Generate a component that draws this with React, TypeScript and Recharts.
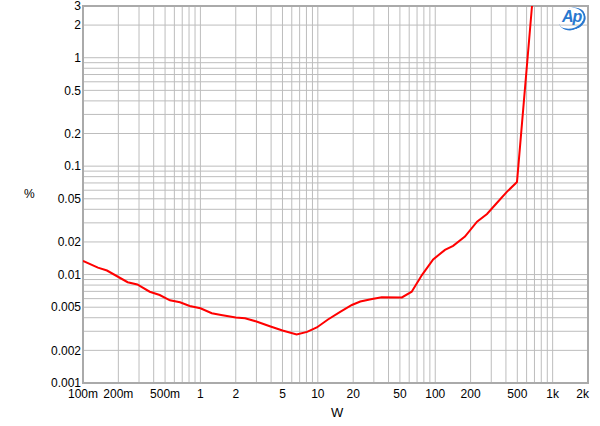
import { LineChart, Line, XAxis, YAxis, CartesianGrid, ReferenceArea } from "recharts";

// output power (W) and THD+N (%)
const powerW = [
  0.1, 0.134, 0.16, 0.24, 0.29, 0.37, 0.45, 0.55, 0.67, 0.81,
  1, 1.25, 1.5, 2, 2.4, 3, 3.9, 5, 6.6, 8.1,
  9.8, 12.2, 15.5, 19.5, 23, 29, 35, 52, 63, 77,
  96, 121, 142, 179, 227, 276, 336, 409, 497, 667,
];
const thdPct = [
  0.0134, 0.0116, 0.0109, 0.0085, 0.0081, 0.00695, 0.00648, 0.00579, 0.00555, 0.00513,
  0.00489, 0.0044, 0.00424, 0.00402, 0.00395, 0.00369, 0.00334, 0.00305, 0.0028, 0.00296,
  0.00325, 0.00385, 0.00452, 0.00524, 0.00565, 0.00596, 0.00617, 0.00615, 0.00695, 0.0099,
  0.0138, 0.0169, 0.0184, 0.0224, 0.0308, 0.0362, 0.046, 0.0582, 0.0715, 3.0,
];

// grid positions (every 1..9 step per decade)
const xTicks = [
  0.1, 0.2, 0.3, 0.4, 0.5, 0.6, 0.7, 0.8, 0.9,
  1, 2, 3, 4, 5, 6, 7, 8, 9,
  10, 20, 30, 40, 50, 60, 70, 80, 90,
  100, 200, 300, 400, 500, 600, 700, 800, 900,
  1000, 2000,
];
const xLabelValues = [0.1, 0.2, 0.5, 1, 2, 5, 10, 20, 50, 100, 200, 500, 1000, 2000];
const xLabels = ["100m", "200m", "500m", "1", "2", "5", "10", "20", "50", "100", "200", "500", "1k", "2k"];

const yTicks = [
  0.001, 0.002, 0.003, 0.004, 0.005, 0.006, 0.007, 0.008, 0.009,
  0.01, 0.02, 0.03, 0.04, 0.05, 0.06, 0.07, 0.08, 0.09,
  0.1, 0.2, 0.3, 0.4, 0.5, 0.6, 0.7, 0.8, 0.9,
  1, 2, 3,
];
const yLabelValues = [0.001, 0.002, 0.005, 0.01, 0.02, 0.05, 0.1, 0.2, 0.5, 1, 2, 3];
const yLabels = ["0.001", "0.002", "0.005", "0.01", "0.02", "0.05", "0.1", "0.2", "0.5", "1", "2", "3"];

const data = powerW.map((w, i) => ({ w, thd: thdPct[i] }));

const near = (a: number, b: number) => Math.abs(a - b) < b * 1e-6;

const xFmt = (v: number) => {
  const i = xLabelValues.findIndex((t) => near(v, t));
  return i >= 0 ? xLabels[i] : "";
};
const yFmt = (v: number) => {
  const i = yLabelValues.findIndex((t) => near(v, t));
  return i >= 0 ? yLabels[i] : "";
};

const font = "'Liberation Sans', Arial, sans-serif";
const tickStyle = { fontSize: 12, fill: "#000", fontFamily: font };

// last label ("2k") sits flush with the right edge of the plot
// eslint-disable-next-line @typescript-eslint/no-explicit-any
const XTick = (props: any) => {
  const { x, y, payload } = props;
  const label = xFmt(payload.value);
  if (!label) return null;
  const last = near(payload.value, 2000);
  return (
    <text x={last ? x + 1 : x} y={y} dy="0.71em" textAnchor={last ? "end" : "middle"} {...tickStyle}>
      {label}
    </text>
  );
};

export default function App() {
  return (
    <div style={{ position: "absolute", left: 0, top: 0, width: 600, height: 426, background: "#fff", fontFamily: font }}>
      <LineChart width={600} height={426} data={data} margin={{ top: 6, right: 12, left: 0, bottom: 0 }}>
        <CartesianGrid stroke="#bdbdbd" strokeWidth={1} />
        <XAxis
          dataKey="w"
          type="number"
          scale="log"
          domain={[0.1, 2000]}
          allowDataOverflow
          ticks={xTicks}
          interval={0}
          tick={<XTick />}
          tickLine={false}
          axisLine={false}
          tickSize={0}
          tickMargin={6}
          height={43}
        />
        <YAxis
          type="number"
          scale="log"
          domain={[0.001, 3]}
          allowDataOverflow
          ticks={yTicks}
          interval={0}
          tickFormatter={yFmt}
          tick={tickStyle}
          tickLine={false}
          axisLine={false}
          tickSize={0}
          tickMargin={2}
          width={83}
        />
        <ReferenceArea x1={0.1} x2={2000} y1={0.001} y2={3} fill="none" stroke="#aaaaaa" strokeWidth={2} ifOverflow="visible" />
        <Line
          type="linear"
          dataKey="thd"
          stroke="#ff0000"
          strokeWidth={2}
          dot={false}
          isAnimationActive={false}
        />
      </LineChart>
      <span style={{ position: "absolute", left: 24, top: 187, fontSize: 12 }}>%</span>
      <span style={{ position: "absolute", left: 331, top: 405, fontSize: 13 }}>W</span>
      <div
        style={{
          position: "absolute",
          left: 558,
          top: 8,
          width: 26,
          height: 20,
          borderRadius: "50%",
          borderRight: "2px solid #2a78cf",
          borderBottom: "2px solid #2a78cf",
          transform: "rotate(-20deg)",
        }}
      />
      <span
        style={{
          position: "absolute",
          left: 562,
          top: 8,
          fontSize: 16,
          fontWeight: "bold",
          fontStyle: "italic",
          color: "#2a78cf",
          letterSpacing: -1,
        }}
      >
        Ap
      </span>
    </div>
  );
}
